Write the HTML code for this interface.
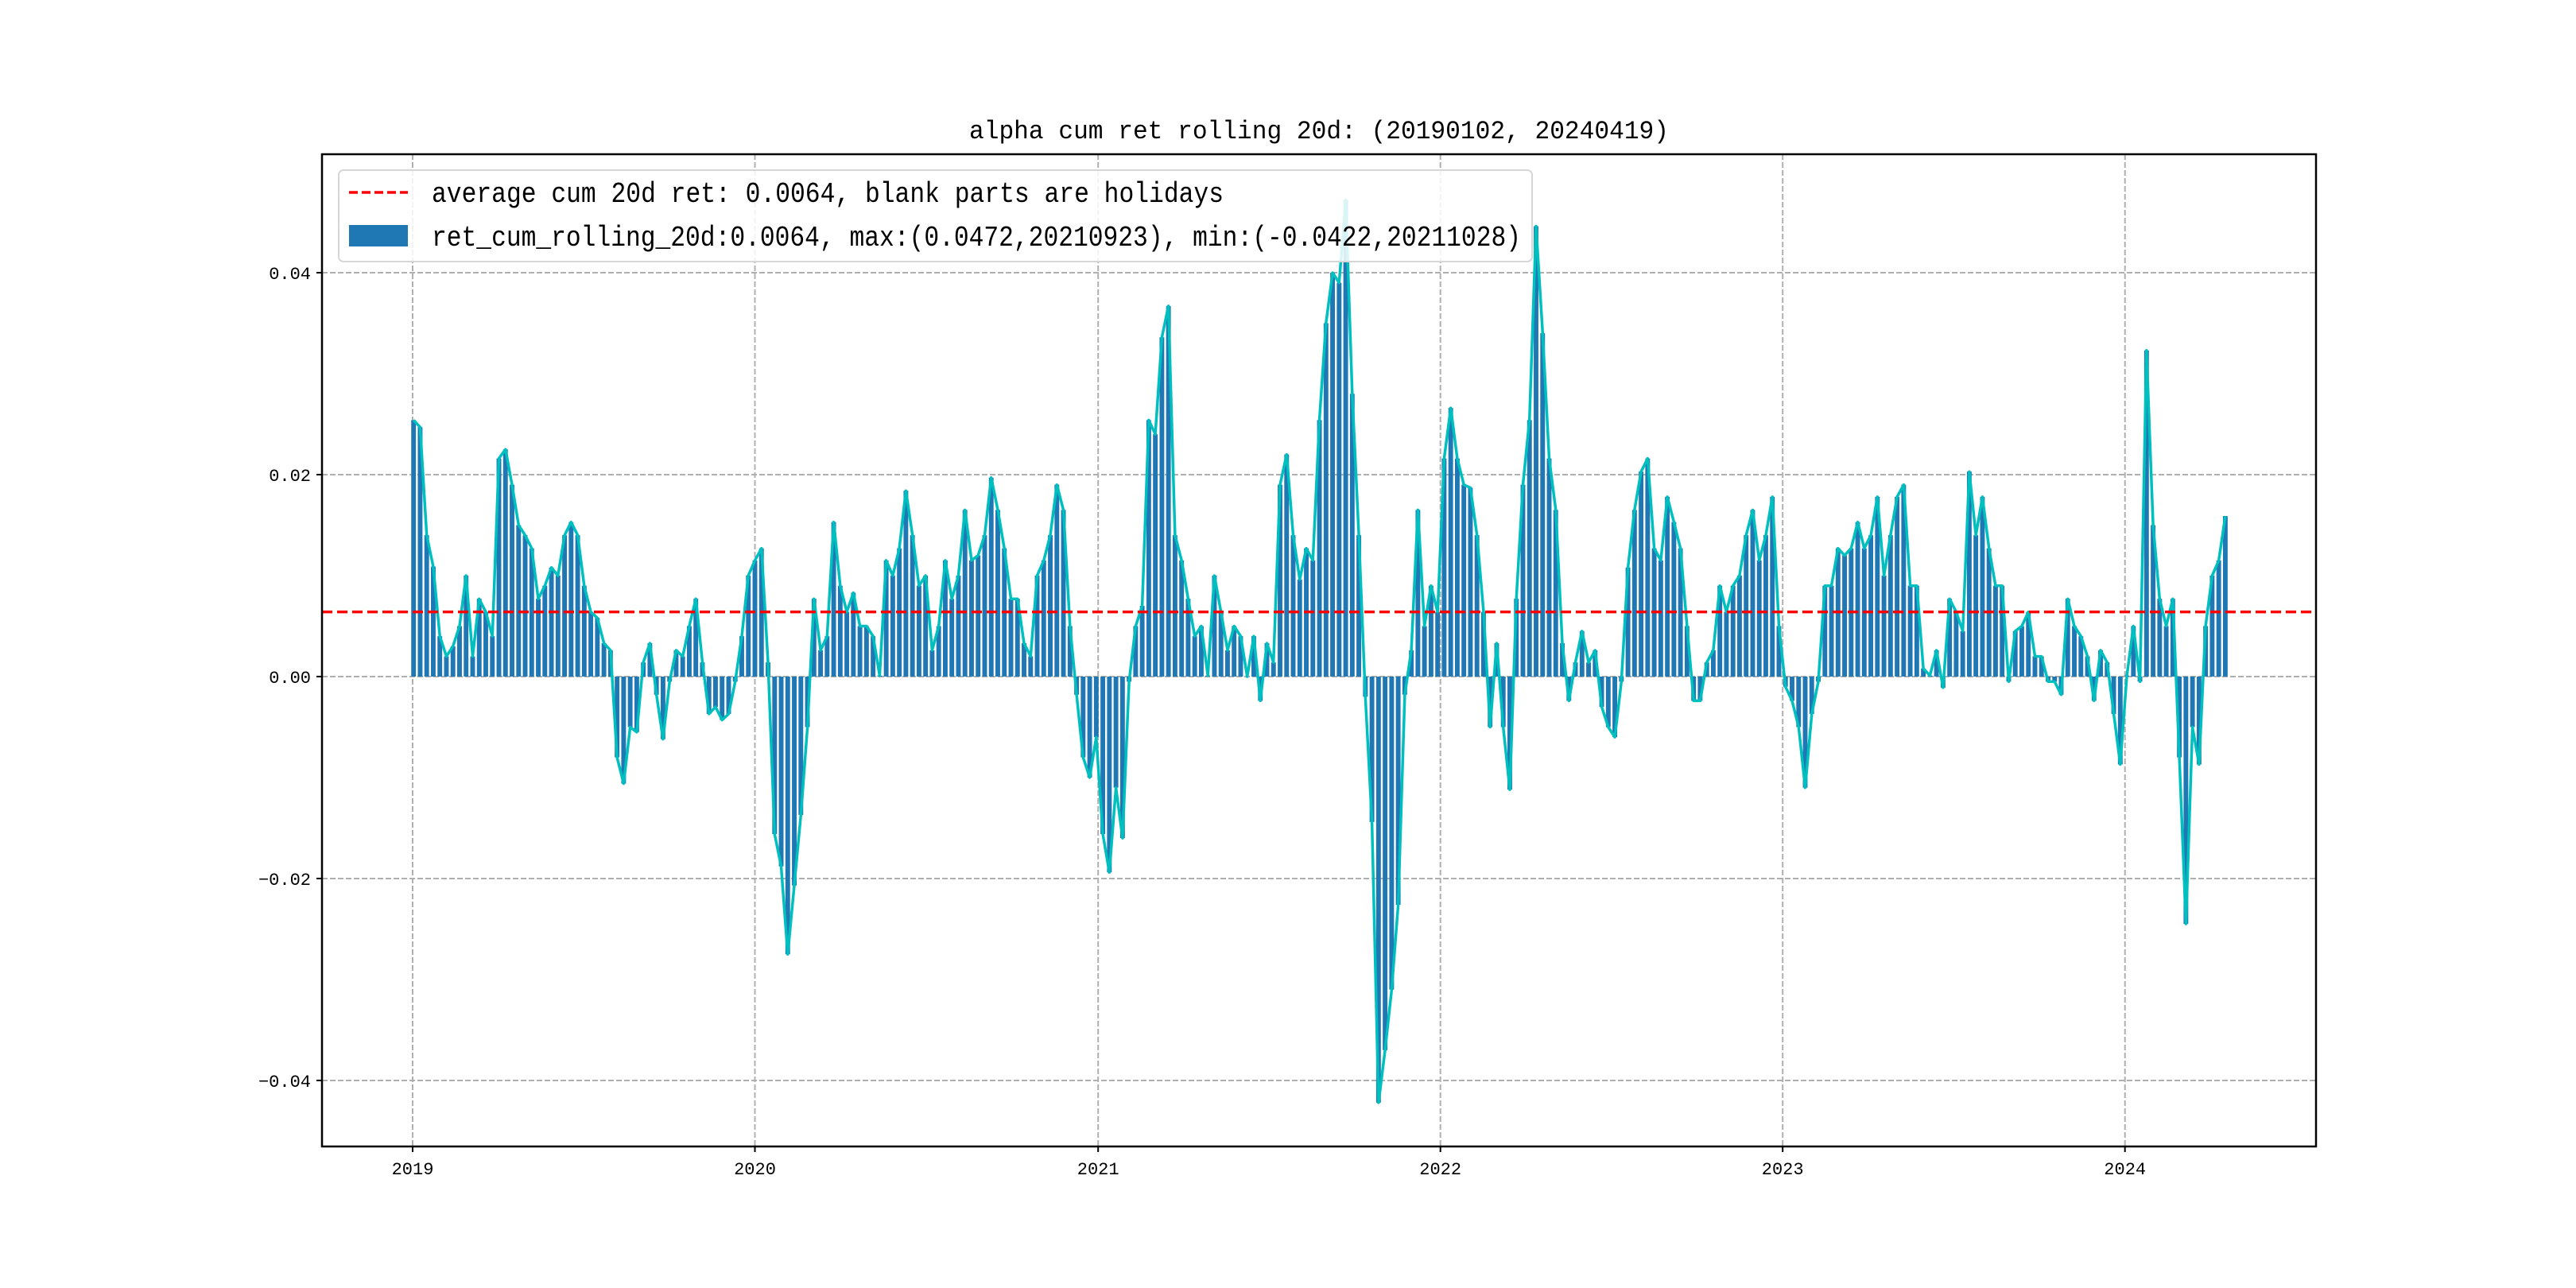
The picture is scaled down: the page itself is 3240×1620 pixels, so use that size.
<!DOCTYPE html>
<html><head><meta charset="utf-8"><style>
html,body{margin:0;padding:0;background:#fff;}
svg{display:block;}
text{font-family:"Liberation Mono","Noto Sans CJK SC",monospace;fill:#000;}
</style></head><body>
<svg id="chart" width="3240" height="1620" viewBox="0 0 3240 1620" xmlns="http://www.w3.org/2000/svg">
<rect width="3240" height="1620" fill="#fff"/>
<text x="1659" y="174" text-anchor="middle" font-size="32" textLength="880" lengthAdjust="spacingAndGlyphs">alpha cum ret rolling 20d: (20190102, 20240419)</text>
<g id="grid"></g>
<g id="bars"></g>
<g id="line"></g>
<g id="avg"></g>
<g id="axes"></g>
<g>
<rect x="426" y="214" width="1501" height="115" rx="6" fill="#fff" fill-opacity="0.85" stroke="#d6d6d6" stroke-width="2"/>
<line x1="439" y1="242" x2="513" y2="242" stroke="#ff0000" stroke-width="3.5" stroke-dasharray="11,5"/>
<text x="543" y="254" font-size="36" textLength="996" lengthAdjust="spacingAndGlyphs">average cum 20d ret: 0.0064, blank parts are holidays</text>
<rect x="439" y="283" width="74" height="27" fill="#1f77b4"/>
<text x="543" y="309" font-size="36" textLength="1370" lengthAdjust="spacingAndGlyphs">ret_cum_rolling_20d:0.0064, max:(0.0472,20210923), min:(-0.0422,20211028)</text>
</g>
</svg>
<script>
const startDate = "2019-01-02";
const values = [
0.0254,0.0247,0.014,0.0109,0.004,0.002,0.003,0.005,0.010,0.002,
0.0077,0.0064,0.004,0.0216,0.0225,0.019,0.015,0.014,0.0127,0.0077,
0.009,0.0108,0.010,0.014,0.0153,0.014,0.009,0.0064,0.0058,0.0033,
0.0026,-0.008,-0.0106,-0.005,-0.0055,0.0014,0.0033,-0.0018,-0.0062,-0.0005,
0.0026,0.002,0.005,0.0077,0.0014,-0.0037,-0.003,-0.0043,-0.0037,-0.0005,
0.004,0.010,0.0115,0.0127,0.0014,-0.0156,-0.0188,-0.0275,-0.0207,-0.0137,
-0.005,0.0077,0.0026,0.004,0.0153,0.009,0.0064,0.0083,0.005,0.005,
0.004,0.0001,0.0115,0.010,0.0127,0.0184,0.014,0.009,0.010,0.0026,
0.005,0.0115,0.0077,0.010,0.0165,0.0115,0.012,0.014,0.0197,0.0165,
0.0127,0.0077,0.0077,0.0033,0.002,0.010,0.0115,0.014,0.019,0.0165,
0.005,-0.0018,-0.008,-0.010,-0.006,-0.0156,-0.0194,-0.011,-0.016,-0.0005,
0.005,0.007,0.0254,0.024,0.0336,0.0367,0.014,0.0115,0.0077,0.004,
0.005,0.0001,0.010,0.0064,0.0026,0.005,0.004,0.0,0.004,-0.0024,
0.0033,0.0014,0.019,0.022,0.014,0.0096,0.0127,0.0115,0.0254,0.035,
0.040,0.039,0.0472,0.028,0.014,-0.002,-0.0144,-0.0422,-0.037,-0.031,
-0.0226,-0.0018,0.0026,0.0165,0.005,0.009,0.0064,0.0216,0.0266,0.0216,
0.019,0.0187,0.014,0.0064,-0.005,0.0033,-0.005,-0.0112,0.0077,0.019,
0.0254,0.0446,0.034,0.0216,0.0165,0.0033,-0.0024,0.0014,0.0045,0.0014,
0.0026,-0.003,-0.005,-0.006,-0.0005,0.0108,0.0165,0.0203,0.0216,0.0127,
0.0115,0.0178,0.0153,0.0127,0.005,-0.0024,-0.0024,0.0014,0.0026,0.009,
0.0064,0.009,0.010,0.014,0.0165,0.0115,0.014,0.0178,0.005,-0.001,
-0.0024,-0.005,-0.011,-0.0037,-0.0005,0.009,0.009,0.0127,0.012,0.0127,
0.0153,0.0127,0.014,0.0178,0.010,0.014,0.0178,0.019,0.009,0.009,
0.0008,0.0001,0.0026,-0.0011,0.0077,0.0064,0.0045,0.0203,0.014,0.0178,
0.0127,0.009,0.009,-0.0005,0.0045,0.005,0.0064,0.002,0.002,-0.0005,
-0.0005,-0.0018,0.0077,0.005,0.004,0.002,-0.0024,0.0026,0.0014,-0.0037,
-0.0087,0.0001,0.005,-0.0005,0.0323,0.015,0.0077,0.005,0.0077,-0.008,
-0.0245,-0.005,-0.0087,0.005,0.010,0.0115,0.0159
];
const yTicks = [0.04, 0.02, 0.0, -0.02, -0.04];
const yTickLabels = ["0.04", "0.02", "0.00", "\u22120.02", "\u22120.04"];
const xYears = [2019, 2020, 2021, 2022, 2023, 2024];
const avgValue = 0.0064;

const NS = "http://www.w3.org/2000/svg";
const L = 405, R = 2913, T = 194, B = 1442;
const yMax = 0.05173, yMin = -0.04654;
const x0 = Date.UTC(2019, 0, 1), pxPerDay = 430.8 / 365.25;
function xOf(ms) { return 519 + (ms - x0) / 86400000 * pxPerDay; }
function yOf(v) { return T + (yMax - v) / (yMax - yMin) * (B - T); }
function mk(tag, attrs, parent) {
  const e = document.createElementNS(NS, tag);
  for (const k in attrs) e.setAttribute(k, attrs[k]);
  parent.appendChild(e); return e;
}
const s = startDate.split("-");
const startMs = Date.UTC(+s[0], +s[1] - 1, +s[2]);
const dates = values.map((v, i) => startMs + i * 7 * 86400000);

const grid = document.getElementById("grid");
yTicks.forEach((t, i) => {
  const gl = mk("line", {x1: L, x2: R, y1: yOf(t), y2: yOf(t), stroke: "#b0b0b0", "stroke-width": 2, "stroke-dasharray": "7,3"}, grid);
  
  
});
xYears.forEach(yr => {
  const x = xOf(Date.UTC(yr, 0, 1));
  const gl = mk("line", {x1: x, x2: x, y1: T, y2: B, stroke: "#b0b0b0", "stroke-width": 2, "stroke-dasharray": "7,3"}, grid);
  
  
});

const bars = document.getElementById("bars");
const bw = 5 * pxPerDay;
values.forEach((v, i) => {
  const x = xOf(dates[i]);
  const y0 = yOf(0), y1 = yOf(v);
  const b = mk("rect", {x: x - bw / 2, y: Math.min(y0, y1), width: bw, height: Math.abs(y1 - y0), fill: "#1f77b4"}, bars);
  
  
});

const lineG = document.getElementById("line");
const pts = values.map((v, i) => xOf(dates[i]).toFixed(1) + "," + yOf(v).toFixed(1)).join(" ");
const pl = mk("polyline", {points: pts, fill: "none", stroke: "#00bfbf", "stroke-width": 3.5, "stroke-linejoin": "round"}, lineG);



const avgG = document.getElementById("avg");
const al = mk("line", {x1: L, x2: R, y1: yOf(avgValue), y2: yOf(avgValue), stroke: "#ff0000", "stroke-width": 3.5, "stroke-dasharray": "13,6"}, avgG);



const axes = document.getElementById("axes");
const frame = mk("rect", {x: L, y: T, width: R - L, height: B - T, fill: "none", stroke: "#000", "stroke-width": 2.5}, axes);


yTicks.forEach((t, i) => {
  const y = yOf(t);
  const tk = mk("line", {x1: L - 7, x2: L, y1: y, y2: y, stroke: "#000", "stroke-width": 2}, axes);
  
  
  const lb = mk("text", {x: L - 14, y: y + 8, "text-anchor": "end", "font-size": 22}, axes);
  lb.textContent = yTickLabels[i];
  
  
});
xYears.forEach(yr => {
  const x = xOf(Date.UTC(yr, 0, 1));
  const tk = mk("line", {x1: x, x2: x, y1: B, y2: B + 7, stroke: "#000", "stroke-width": 2}, axes);
  
  
  const lb = mk("text", {x: x, y: B + 35, "text-anchor": "middle", "font-size": 22}, axes);
  lb.textContent = String(yr);
  
  
});
</script>
</body></html>
